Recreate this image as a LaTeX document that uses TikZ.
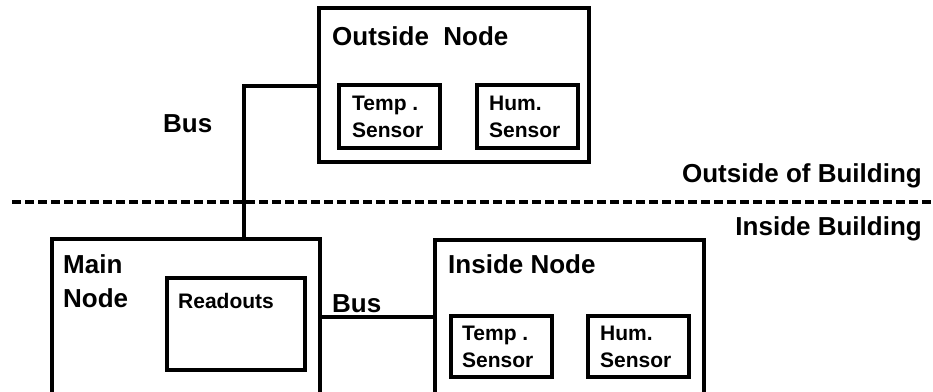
\documentclass[tikz,border=0pt]{standalone}
\usepackage{fontspec}
\setmainfont{Liberation Sans}
\begin{document}
\begin{tikzpicture}[x=1pt,y=-1pt,
  box/.style={draw, line width=3.1pt, rectangle, inner sep=0pt, outer sep=0pt, anchor=north west},
  big/.style={font=\fontsize{26}{30}\selectfont\bfseries, anchor=base west, inner sep=0pt},
  small/.style={font=\fontsize{21}{27}\selectfont\bfseries, anchor=base west, inner sep=0pt, align=left},
  bus/.style={line width=3.3pt},
  divider/.style={line width=3.2pt, dash pattern=on 8.5pt off 4.5pt}]
\clip (0,0) rectangle (933,391);
\useasboundingbox (0,0) rectangle (933,391);

% outside node with its two sensors
\node[box, minimum width=270pt, minimum height=154pt] (outside) at (319,8) {};
\node[box, minimum width=101pt, minimum height=63pt] (otemp) at (339,85) {};
\node[box, minimum width=101pt, minimum height=63pt] (ohum) at (477,85) {};
\node[big] (outsidelbl) at (332,45) {Outside\ \ Node};
\node[small] (otemplbl) at (352,110) {Temp .};
\node[small] (otemplbl2) at (352,137) {Sensor};
\node[small] (ohumlbl) at (489,110) {Hum.};
\node[small] (ohumlbl2) at (489,137) {Sensor};

% main node (cut off at the bottom)
\node[box, minimum width=268pt, minimum height=200pt] (main) at (52,239) {};
\node[box, minimum width=138pt, minimum height=92pt] (readouts) at (167,278) {};
\node[big] (mainlbl) at (63,273) {Main};
\node[big] (mainlbl2) at (63,307) {Node};
\node[small] (readlbl) at (178,308) {Readouts};

% inside node (cut off at the bottom)
\node[box, minimum width=269pt, minimum height=200pt] (inside) at (435,240) {};
\node[box, minimum width=101pt, minimum height=61pt] (itemp) at (451,316) {};
\node[box, minimum width=101pt, minimum height=61pt] (ihum) at (588,316) {};
\node[big] (insidelbl) at (448,273) {Inside Node};
\node[small] (itemplbl) at (462,340) {Temp .};
\node[small] (itemplbl2) at (462,367) {Sensor};
\node[small] (ihumlbl) at (600,340) {Hum.};
\node[small] (ihumlbl2) at (600,367) {Sensor};

% bus connections
\coordinate (busbend) at (244,86);
\draw[bus] (outside.west |- busbend) -- (busbend) -- (busbend |- main.north);
\coordinate (lowbus) at (0,317);
\draw[bus] (main.east |- lowbus) -- (inside.west |- lowbus);
\node[big] (buslbl1) at (163,132) {Bus};
\node[big] (buslbl2) at (332,312) {Bus};

% building boundary
\coordinate (divL) at (12,202);
\coordinate (divR) at (933,202);
\draw[divider] (divL) -- (divR);
\node[big, anchor=base east] (outbld) at (922,182) {Outside of Building};
\node[big, anchor=base east] (inbld) at (922,235) {Inside Building};
\end{tikzpicture}
\end{document}
